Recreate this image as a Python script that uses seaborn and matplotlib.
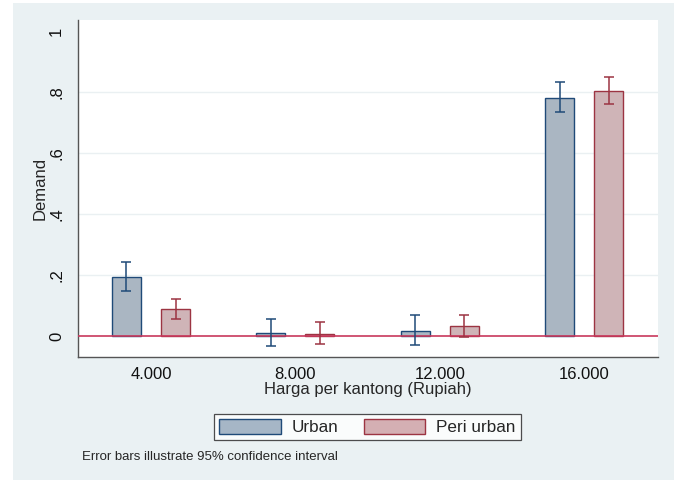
import matplotlib
matplotlib.use('Agg')
import matplotlib.pyplot as plt
from matplotlib.patches import Rectangle, Patch
import seaborn as sns
import pandas as pd
import numpy as np

# values
prices = ['4.000', '8.000', '12.000', '16.000']
groups = ['Urban', 'Peri urban']
urban_mean = [0.194, 0.011, 0.017, 0.781]
urban_lo = [0.147, -0.034, -0.030, 0.733]
urban_hi = [0.244, 0.056, 0.069, 0.833]
peri_mean = [0.088, 0.008, 0.034, 0.804]
peri_lo = [0.056, -0.026, -0.002, 0.760]
peri_hi = [0.121, 0.045, 0.070, 0.850]

fill_colors = ['#A6B6C6', '#D4AFB3']
edge_colors = ['#1F4A78', '#9C3442']

df = pd.DataFrame({
    'price': prices * 2,
    'group': [groups[0]] * 4 + [groups[1]] * 4,
    'demand': urban_mean + peri_mean,
})

sns.set_style('white')
plt.rcParams['font.family'] = ['Liberation Sans', 'DejaVu Sans']

fig = plt.figure(figsize=(6.74, 4.8), dpi=100)
fig.patch.set_facecolor('white')
fig.patches.append(Rectangle((13 / 674, 0), 1, 1 - 3 / 480, transform=fig.transFigure,
                             facecolor='#EAF1F3', edgecolor='none', zorder=-10))
ax = fig.add_axes([78 / 674, 1 - 357 / 480, 580 / 674, 337 / 480])
ax.set_facecolor('white')

sns.barplot(data=df, x='price', y='demand', hue='group', order=prices, hue_order=groups,
            palette=fill_colors, width=0.68, gap=0.41, errorbar=None, legend=False, ax=ax,
            zorder=3)

# edges and error bars per series
n = len(prices)
for i, p in enumerate(ax.patches[:2 * n]):
    g = i // n
    p.set_edgecolor(edge_colors[g])
    p.set_linewidth(1.0)

lows = [urban_lo, peri_lo]
highs = [urban_hi, peri_hi]
means = [urban_mean, peri_mean]
for g in range(2):
    xs = [ax.patches[g * n + k].get_x() + ax.patches[g * n + k].get_width() / 2 for k in range(n)]
    m = np.array(means[g])
    yerr = [m - np.array(lows[g]), np.array(highs[g]) - m]
    ax.errorbar(xs, m, yerr=yerr, fmt='none', ecolor=edge_colors[g], elinewidth=1.1,
                capsize=3.5, capthick=1.1, zorder=5)

ax.axhline(0, color='#C8385C', lw=1.2, zorder=4)
for yv in [0.2, 0.4, 0.6, 0.8]:
    ax.axhline(yv, color='#EAF0F2', lw=1.0, zorder=1)

ax.set_xlim(-0.505, 3.51)
ax.set_ylim(-0.069, 1.036)
ax.set_yticks([0, 0.2, 0.4, 0.6, 0.8, 1])
ax.set_yticklabels(['0', '.2', '.4', '.6', '.8', '1'], rotation=90, va='center')
ax.tick_params(axis='both', direction='out', length=5, width=0.8, color='#333333',
               labelsize=12, labelcolor='#111111', pad=2)
ax.tick_params(axis='y', pad=5)

for s in ['top', 'right']:
    ax.spines[s].set_visible(False)
for s in ['left', 'bottom']:
    ax.spines[s].set_color('#555555')
    ax.spines[s].set_linewidth(1.0)

ax.set_xlabel('Harga per kantong (Rupiah)', fontsize=12, labelpad=0)
ax.set_ylabel('Demand', fontsize=12, labelpad=1)

handles = [Patch(facecolor=fill_colors[k], edgecolor=edge_colors[k], lw=1.0) for k in range(2)]
leg = fig.legend(handles, groups, loc='center', bbox_to_anchor=(367.5 / 674, 1 - 427 / 480),
                 ncol=2, fontsize=12.3, frameon=True, fancybox=False, handlelength=3.6,
                 handleheight=1.0, handletextpad=0.65, columnspacing=1.45, borderpad=0.3)
leg.get_frame().set_edgecolor('#222222')
leg.get_frame().set_linewidth(0.9)

fig.text(82 / 674, 1 - 457 / 480, 'Error bars illustrate 95% confidence interval',
         fontsize=9.5, va='center', ha='left')

fig.savefig('out.png', dpi=100)
